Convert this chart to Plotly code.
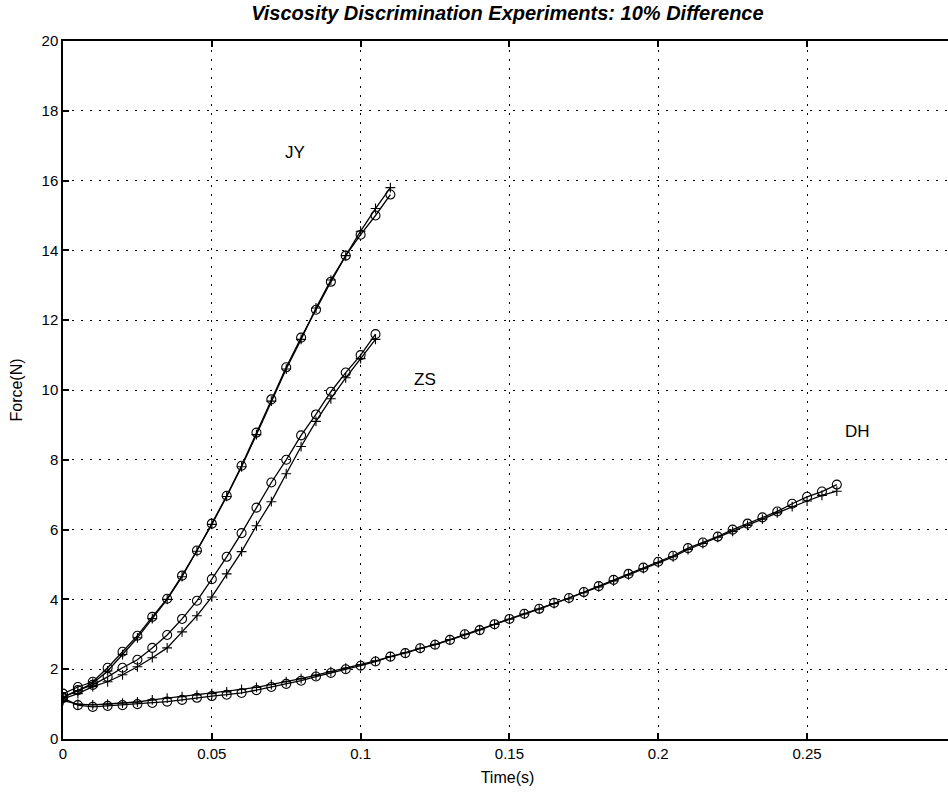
import plotly.graph_objects as go

# time bases (s)
t_jy = [round(i * 0.005, 3) for i in range(23)]   # 0 .. 0.11
t_zs = [round(i * 0.005, 3) for i in range(22)]   # 0 .. 0.105
t_dh = [round(i * 0.005, 3) for i in range(53)]   # 0 .. 0.26

jy_circle = [1.30, 1.49, 1.64, 2.04, 2.50, 2.96, 3.50, 4.02, 4.68, 5.40, 6.17, 6.97,
             7.83, 8.78, 9.73, 10.65, 11.50, 12.30, 13.10, 13.85, 14.45, 15.00, 15.60]
jy_plus = [1.20, 1.38, 1.60, 1.95, 2.42, 2.90, 3.45, 4.00, 4.65, 5.38, 6.15, 6.95,
           7.80, 8.72, 9.68, 10.60, 11.45, 12.35, 13.15, 13.85, 14.55, 15.20, 15.80]

zs_circle = [1.20, 1.40, 1.55, 1.78, 2.04, 2.27, 2.61, 2.98, 3.44, 3.96, 4.58, 5.22,
             5.90, 6.63, 7.35, 8.00, 8.70, 9.30, 9.95, 10.50, 11.00, 11.60]
zs_plus = [1.15, 1.30, 1.50, 1.64, 1.84, 2.07, 2.33, 2.61, 3.07, 3.53, 4.07, 4.73,
           5.37, 6.11, 6.80, 7.60, 8.38, 9.10, 9.75, 10.35, 10.90, 11.45]

dh_circle = [1.17, 0.97, 0.92, 0.95, 0.97, 1.00, 1.03, 1.07, 1.12, 1.18, 1.23, 1.27,
             1.32, 1.40, 1.49, 1.58, 1.67, 1.79, 1.89, 2.00, 2.10, 2.22, 2.36, 2.46,
             2.60, 2.70, 2.84, 3.00, 3.12, 3.29, 3.44, 3.59, 3.73, 3.90, 4.04, 4.21,
             4.38, 4.56, 4.73, 4.91, 5.08, 5.25, 5.47, 5.63, 5.80, 6.00, 6.17, 6.35,
             6.52, 6.74, 6.94, 7.09, 7.29]
dh_plus = [1.10, 1.00, 0.98, 1.00, 1.03, 1.06, 1.12, 1.17, 1.21, 1.26, 1.30, 1.35,
           1.42, 1.48, 1.56, 1.64, 1.73, 1.83, 1.93, 2.03, 2.13, 2.24, 2.36, 2.47,
           2.60, 2.71, 2.85, 3.00, 3.13, 3.28, 3.43, 3.58, 3.72, 3.88, 4.02, 4.19,
           4.36, 4.53, 4.70, 4.88, 5.05, 5.22, 5.43, 5.60, 5.78, 5.95, 6.12, 6.30,
           6.48, 6.66, 6.82, 6.98, 7.10]

labels = ["JY", "ZS", "DH"]
label_x = [0.078, 0.1215, 0.267]
label_y = [16.8, 10.3, 8.8]

x_ticks = [0, 0.05, 0.1, 0.15, 0.2, 0.25]
x_tick_text = ["0", "0.05", "0.1", "0.15", "0.2", "0.25"]
y_ticks = list(range(0, 21, 2))

FONT = "Liberation Sans, Arial, Helvetica"

fig = go.Figure()

def add(t, f, sym, size):
    fig.add_trace(go.Scatter(
        x=t, y=f, mode="lines+markers",
        line=dict(color="black", width=1.3),
        marker=dict(symbol=sym, size=size, color="black",
                    line=dict(color="black", width=1.1)),
        showlegend=False, hoverinfo="skip"))

add(t_jy, jy_circle, "circle-open", 9)
add(t_jy, jy_plus, "cross-thin-open", 7)
add(t_zs, zs_circle, "circle-open", 9)
add(t_zs, zs_plus, "cross-thin-open", 7)
add(t_dh, dh_circle, "circle-open", 9)
add(t_dh, dh_plus, "cross-thin-open", 7)

for lab, lx, ly in zip(labels, label_x, label_y):
    fig.add_annotation(x=lx, y=ly, text=lab, showarrow=False,
                       font=dict(family=FONT, size=17, color="black"))

axis_common = dict(
    showline=True, linecolor="black", linewidth=1.5,
    ticks="inside", ticklen=6, tickcolor="black", tickwidth=1.5,
    showgrid=True, gridcolor="black", griddash="2px,7px", gridwidth=1.2,
    zeroline=False,
    tickfont=dict(family=FONT, size=15, color="black"),
)

fig.update_xaxes(range=[0, 0.2987], tickvals=x_ticks, ticktext=x_tick_text,
                 mirror="ticks",
                 title=dict(text="Time(s)", standoff=11,
                            font=dict(family=FONT, size=16, color="black")),
                 **axis_common)
fig.update_yaxes(range=[0, 20], tickvals=y_ticks, mirror=False,
                 title=dict(text="Force(N)", standoff=15,
                            font=dict(family=FONT, size=16, color="black")),
                 **axis_common)

fig.update_layout(
    width=952, height=794,
    margin=dict(l=63, r=0, t=41, b=55),
    paper_bgcolor="white", plot_bgcolor="white",
    title=dict(text="<b><i>Viscosity Discrimination Experiments: 10% Difference</i></b>",
               x=0.533, xanchor="center", y=0.984, yanchor="middle",
               font=dict(family=FONT, size=20, color="black")),
)

fig.write_html("out.html",
               config={"displayModeBar": False},
               post_script="document.body.style.margin='0';document.body.style.overflow='hidden';")
